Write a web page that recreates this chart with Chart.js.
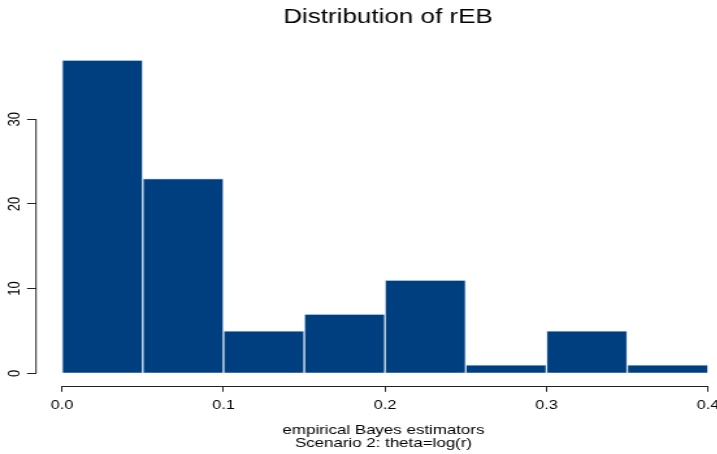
<!DOCTYPE html>
<html>
<head>
<meta charset="utf-8">
<script src="https://cdn.jsdelivr.net/npm/chart.js@4/dist/chart.umd.min.js"></script>
<style>
  html, body { margin: 0; padding: 0; background: #fff; overflow: hidden; }
  #lienzo { display: block; }
</style>
</head>
<body>
<!-- the reference is horizontally stretched, so the canvas is drawn narrow and widened by css -->
<canvas id="lienzo" width="597" height="454" style="width:776px;height:454px"></canvas>
<script>
const cortes = [0, 0.05, 0.1, 0.15, 0.2, 0.25, 0.3, 0.35, 0.4]
const conteos = [37, 23, 5, 7, 11, 1, 5, 1]
const ticksX = [0, 0.1, 0.2, 0.3, 0.4]
const ticksY = [0, 10, 20, 30]
const titulo = 'Distribution of rEB'
const tituloX = ['empirical Bayes estimators', 'Scenario 2: theta=log(r)']

const puntos = conteos.map((c, i) => ({ x: (cortes[i] + cortes[i + 1]) / 2, y: c }))

Chart.defaults.font.family = "'Liberation Sans', Arial, sans-serif"
Chart.defaults.color = '#000'

// R style axes: line only between first and last tick
const ejes = {
    id: 'ejes',
    afterDraw(chart) {
        const ctx = chart.ctx
        const sx = chart.scales.x
        const sy = chart.scales.y
        const area = chart.chartArea
        ctx.save()
        ctx.strokeStyle = '#222'
        ctx.lineWidth = 1
        ctx.beginPath()
        ctx.moveTo(sx.getPixelForValue(ticksX[0]), Math.round(area.bottom) + 0.5)
        ctx.lineTo(sx.getPixelForValue(ticksX[ticksX.length - 1]), Math.round(area.bottom) + 0.5)
        ctx.moveTo(area.left, sy.getPixelForValue(ticksY[0]))
        ctx.lineTo(area.left, sy.getPixelForValue(ticksY[ticksY.length - 1]))
        ctx.stroke()
        ctx.restore()
    }
}

new Chart(document.getElementById('lienzo'), {
    type: 'bar',
    data: {
        datasets: [{
            data: puntos,
            backgroundColor: '#003f7f',
            borderColor: '#dde6f0',
            borderWidth: 1,
            barPercentage: 1,
            categoryPercentage: 1
        }]
    },
    options: {
        responsive: false,
        devicePixelRatio: 1,
        animation: false,
        layout: { padding: 0 },
        plugins: {
            legend: { display: false },
            tooltip: { enabled: false },
            title: {
                display: true,
                text: titulo,
                color: '#000',
                font: { size: 20, weight: 'normal' },
                padding: { top: 5.2, bottom: 18.3 }
            }
        },
        scales: {
            x: {
                type: 'linear',
                offset: false,
                min: -0.0161,
                max: 0.4142,
                afterBuildTicks: s => { s.ticks = ticksX.map(v => ({ value: v })) },
                afterFit: s => { s.height = 68.2 },
                ticks: {
                    callback: v => v.toFixed(1),
                    font: { size: 12.5 },
                    padding: 6.7,
                    maxRotation: 0,
                    autoSkip: false
                },
                grid: { drawOnChartArea: false, offset: false, tickLength: 6, tickColor: '#222' },
                border: { display: false },
                title: {
                    display: true,
                    text: tituloX,
                    font: { size: 13, lineHeight: 1 },
                    padding: { top: 0, bottom: 4.5 }
                }
            },
            y: {
                min: -1.48,
                max: 38.48,
                afterBuildTicks: s => { s.ticks = ticksY.map(v => ({ value: v })) },
                afterFit: s => { s.width = 27.7 },
                ticks: {
                    font: { size: 13 },
                    minRotation: 90,
                    maxRotation: 90,
                    crossAlign: 'center',
                    padding: 2.1
                },
                grid: { drawOnChartArea: false, tickLength: 6.9, tickColor: '#222' },
                border: { display: false }
            },
            // empty margin on the right, like the R plot region
            derecha: {
                position: 'right',
                afterFit: s => { s.width = 34.7 },
                ticks: { display: false },
                grid: { display: false },
                border: { display: false }
            }
        }
    },
    plugins: [ejes]
})
</script>
</body>
</html>
